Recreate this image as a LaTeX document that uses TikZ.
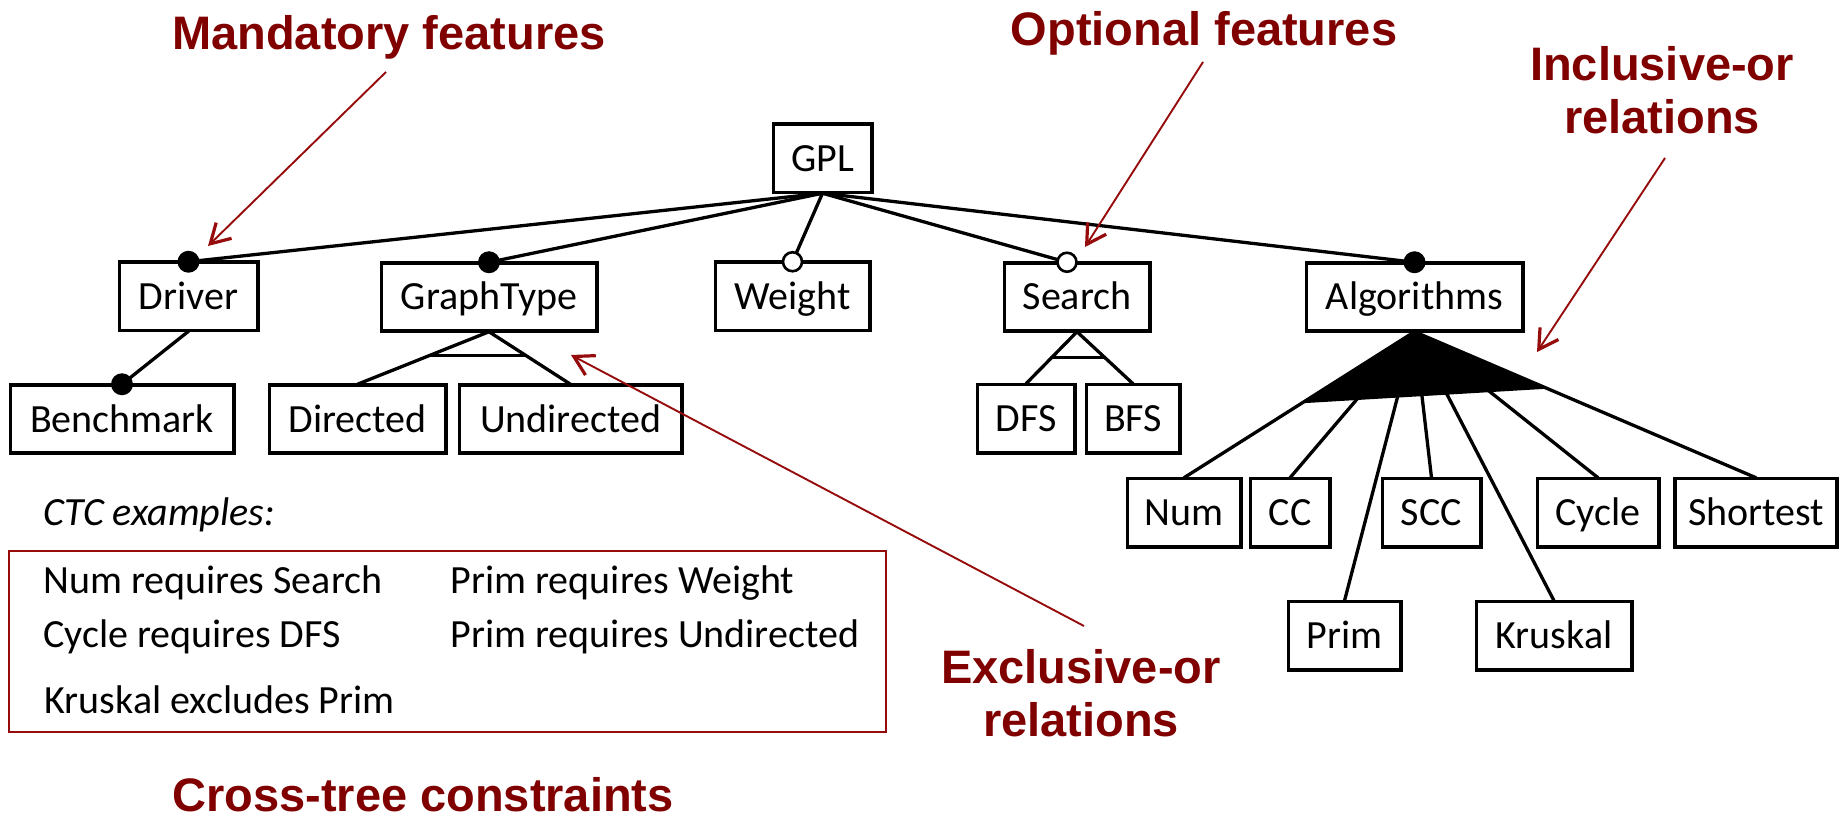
\documentclass[tikz,border=0pt]{standalone}
\usepackage{fontspec}
\setmainfont{Carlito}
\newfontfamily\labelfont{Liberation Sans}
\usetikzlibrary{arrows.meta,calc}
\definecolor{lblred}{RGB}{128,0,0}
\definecolor{callred}{RGB}{150,12,12}

\begin{document}
\begin{tikzpicture}[x=1pt,y=-1pt,
  feat/.style={draw, line width=2.5pt, fill=white, minimum height=67pt,
    inner sep=0pt, text height=26pt, text depth=0pt,
    font=\fontsize{40}{48}\selectfont},
  link/.style={line width=3.3pt, line cap=round},
  mandot/.style={fill=black},
  optdot/.style={draw=black, line width=2.6pt, fill=white},
  orfill/.style={fill=black},
  callarrow/.style={draw=callred, line width=1.9pt,
    -{Straight Barb[length=19pt,width=22pt,line width=3.2pt]}},
  calllabel/.style={text=lblred, inner sep=0pt,
    font=\labelfont\bfseries\fontsize{47}{53}\selectfont},
  ctctext/.style={anchor=base west, inner sep=0pt,
    font=\fontsize{40}{48}\selectfont}
]
\useasboundingbox (0,0) rectangle (1845,818);

% ---- feature boxes ----
\node[feat, minimum width=97pt]  (gpl)  at (822.5,158.5) {GPL};
\node[feat, minimum width=137pt] (drv)  at (188.5,296.5) {Driver};
\node[feat, minimum width=214pt] (gt)   at (489,297)     {GraphType};
\node[feat, minimum width=153pt] (wgt)  at (792.5,296.5) {Weight};
\node[feat, minimum width=144pt] (srch) at (1077,297)    {Search};
\node[feat, minimum width=215pt] (alg)  at (1414.5,297)  {Algorithms};
\node[feat, minimum width=222pt] (bench) at (122,419)    {Benchmark};
\node[feat, minimum width=175pt] (dir)  at (357.5,419)   {Directed};
\node[feat, minimum width=221pt] (und)  at (570.5,419)   {Undirected};
\node[feat, minimum width=96pt]  (dfs)  at (1026,418.5)  {DFS};
\node[feat, minimum width=92pt]  (bfs)  at (1133,418.5)  {BFS};
\node[feat, minimum width=112pt] (num)  at (1184,512.5)  {Num};
\node[feat, minimum width=78pt]  (cc)   at (1290,512.5)  {CC};
\node[feat, minimum width=97pt]  (scc)  at (1431.5,512.5) {SCC};
\node[feat, minimum width=120pt] (cyc)  at (1598,512.5)  {Cycle};
\node[feat, minimum width=161pt] (sho)  at (1756,512.5)  {Shortest};
\node[feat, minimum width=111pt] (prim) at (1344.5,635.5) {Prim};
\node[feat, minimum width=154pt] (krus) at (1554,635.5)  {Kruskal};

\coordinate (srchdot) at ([xshift=-10pt]srch.north);

% ---- tree connectors ----
\draw[link] (gpl.south) -- (drv.north);
\draw[link] (gpl.south) -- (gt.north);
\draw[link] (gpl.south) -- (wgt.north);
\draw[link] (gpl.south) -- (srchdot);
\draw[link] (gpl.south) -- (alg.north);
\draw[link] (drv.south) -- (bench.north);

% alternative (xor) groups
\draw[link] (gt.south) -- (dir.north);
\draw[link] (gt.south) -- (und.north);
\draw[link] ($(gt.south)!0.45!(dir.north)$) -- ($(gt.south)!0.45!(und.north)$);
\draw[link] (srch.south) -- (dfs.north);
\draw[link] (srch.south) -- (bfs.north);
\draw[link] ($(srch.south)!0.5!(dfs.north)$) -- ($(srch.south)!0.5!(bfs.north)$);

% or group
\foreach \c in {num,cc,prim,scc,krus,cyc,sho}
  \draw[link] (alg.south) -- (\c.north);
\fill[orfill] (alg.south) -- ($(alg.south)!0.49!(num.north)$)
  -- ($(alg.south)!0.39!(sho.north)$) -- cycle;

% redraw the box borders over the line ends
\foreach \n in {gpl,drv,gt,wgt,srch,alg,bench,dir,und,dfs,bfs,num,cc,scc,cyc,sho,prim,krus}
  \draw[line width=2.5pt] (\n.south west) rectangle (\n.north east);

% mandatory / optional markers
\fill[mandot] (drv.north) circle (11pt);
\fill[mandot] (gt.north) circle (11pt);
\fill[mandot] (alg.north) circle (11pt);
\fill[mandot] (bench.north) circle (11pt);
\draw[optdot] (wgt.north) circle (9.5pt);
\draw[optdot] (srchdot) circle (9.5pt);

% ---- cross-tree constraints ----
\node[ctctext, font=\fontsize{40}{48}\selectfont\itshape] (ctchead) at (43,525) {CTC examples:};
\node[draw=callred, line width=2.2pt, minimum width=877pt, minimum height=181pt,
  inner sep=0pt] (ctcbox) at (447.5,641.5) {};
\node[ctctext] (c1) at (43,593)    {Num requires Search};
\node[ctctext] (c2) at (450.5,593) {Prim requires Weight};
\node[ctctext] (c3) at (43,647)    {Cycle requires DFS};
\node[ctctext] (c4) at (450.5,647) {Prim requires Undirected};
\node[ctctext] (c5) at (44.5,713)  {Kruskal excludes Prim};

% ---- callout labels ----
\node[calllabel, anchor=base] (lmand) at (389,50) {Mandatory features};
\node[calllabel, anchor=base] (lopt)  at (1204,46) {Optional features};
\node[calllabel, anchor=south, align=center] (lor) at (1662,134) {Inclusive-or\\relations};
\node[calllabel, anchor=south, align=center] (lxor) at (1081,737) {Exclusive-or\\relations};
\node[calllabel, anchor=base] (lctc) at (423,811) {Cross-tree constraints};

% ---- callout arrows ----
\coordinate (mandtail) at (386,72);
\coordinate (mandtip)  at (208,246);
\coordinate (opttail)  at (1203,62);
\coordinate (opttip)   at (1085,247);
\coordinate (ortail)   at (1665,158);
\coordinate (ortip)    at (1537,352);
\coordinate (xortail)  at (1084,626);
\coordinate (xortip)   at (571,355);
\draw[callarrow] (mandtail) -- (mandtip);
\draw[callarrow] (opttail) -- (opttip);
\draw[callarrow] (ortail) -- (ortip);
\draw[callarrow] (xortail) -- (xortip);
\end{tikzpicture}
\end{document}
